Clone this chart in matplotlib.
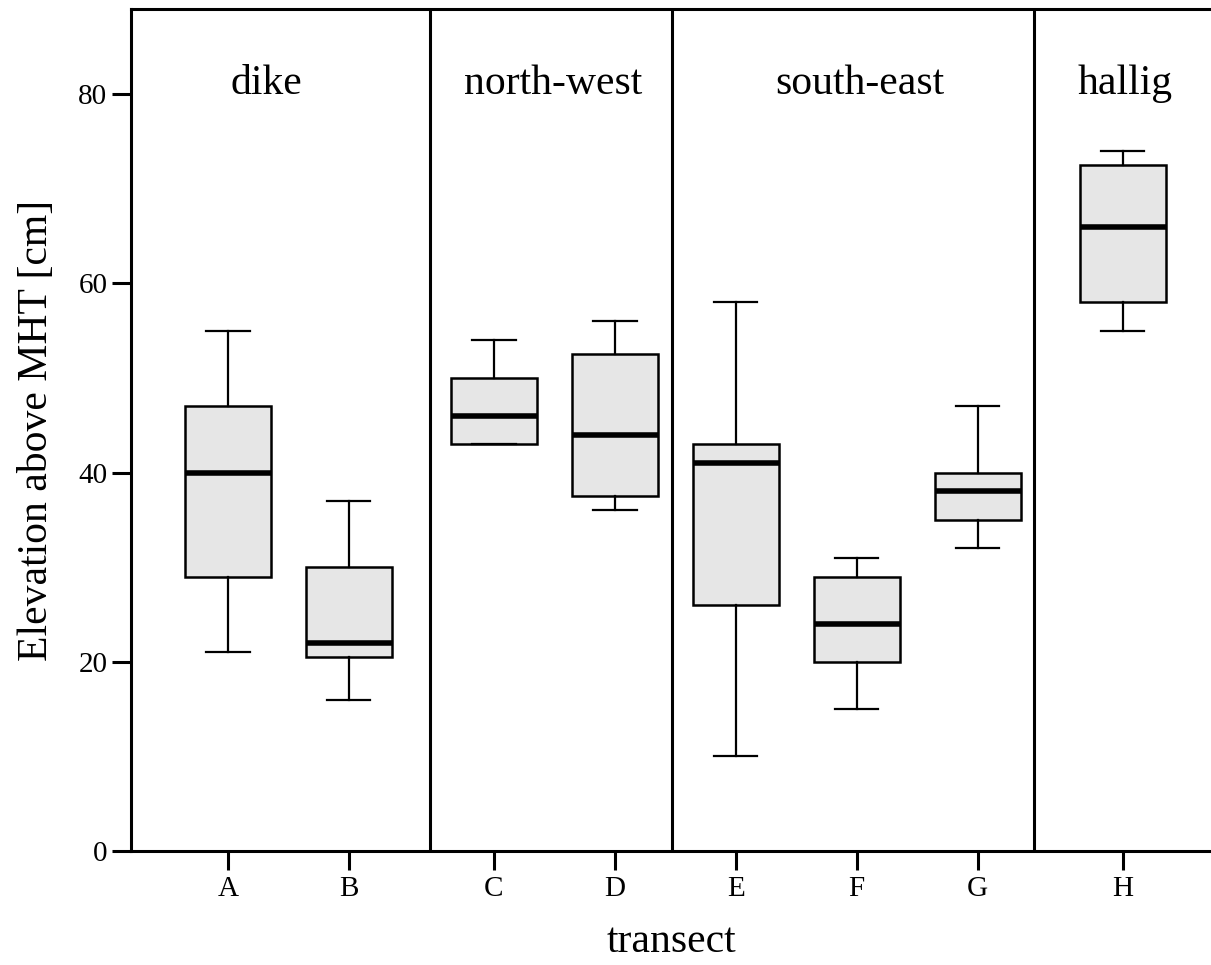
import matplotlib
matplotlib.use('Agg')
import matplotlib.pyplot as plt

plt.rcParams['font.family'] = ['Liberation Serif', 'DejaVu Serif']

# data
transects = ['A', 'B', 'C', 'D', 'E', 'F', 'G', 'H']
whislo = [21, 16, 43, 36, 10, 15, 32, 55]
q1 = [29, 20.5, 43, 37.5, 26, 20, 35, 58]
med = [40, 22, 46, 44, 41, 24, 38, 66]
q3 = [47, 30, 50, 52.5, 43, 29, 40, 72.5]
whishi = [55, 37, 54, 56, 58, 31, 47, 74]

groups = ['dike', 'north-west', 'south-east', 'hallig']

# layout
positions = [0.8, 1.8, 3, 4, 5, 6, 7, 8.2]
separators = [2.47, 4.47, 7.47]
group_x = [1.12, 3.49, 6.03, 8.22]

stats = []
for i in range(len(transects)):
    stats.append({'label': transects[i], 'whislo': whislo[i], 'q1': q1[i],
                  'med': med[i], 'q3': q3[i], 'whishi': whishi[i], 'fliers': []})

fig = plt.figure(figsize=(12.11, 9.65), dpi=100)
ax = fig.add_axes([131/1211, 114/965, 1 - 131/1211, 842/965])

ax.bxp(stats, positions=positions, widths=0.71, capwidths=0.36,
       patch_artist=True, showfliers=False,
       boxprops=dict(facecolor='#e6e6e6', edgecolor='black', linewidth=1.8),
       whiskerprops=dict(color='black', linewidth=1.6),
       capprops=dict(color='black', linewidth=1.6),
       medianprops=dict(color='black', linewidth=4.0, solid_capstyle='butt'))

for s in separators:
    ax.axvline(s, color='black', linewidth=2.2)

for g, gx in zip(groups, group_x):
    ax.text(gx, 80, g, ha='center', va='baseline', fontsize=30)

ax.set_xlim(0, 8.93)
ax.set_ylim(0, 89)
ax.set_yticks([0, 20, 40, 60, 80])
ax.set_xticks(positions)
ax.set_xticklabels(transects)

ax.spines['right'].set_visible(False)
for sp in ['left', 'bottom', 'top']:
    ax.spines[sp].set_linewidth(2.2)
ax.tick_params(axis='both', length=14, width=2.2, labelsize=21, direction='out')
ax.tick_params(axis='y', pad=3)
ax.tick_params(axis='x', pad=4)

ax.set_xlabel('transect', fontsize=30, labelpad=15)
ax.set_ylabel('Elevation above MHT [cm]', fontsize=30, labelpad=16)

fig.savefig('out.png', dpi=100)
